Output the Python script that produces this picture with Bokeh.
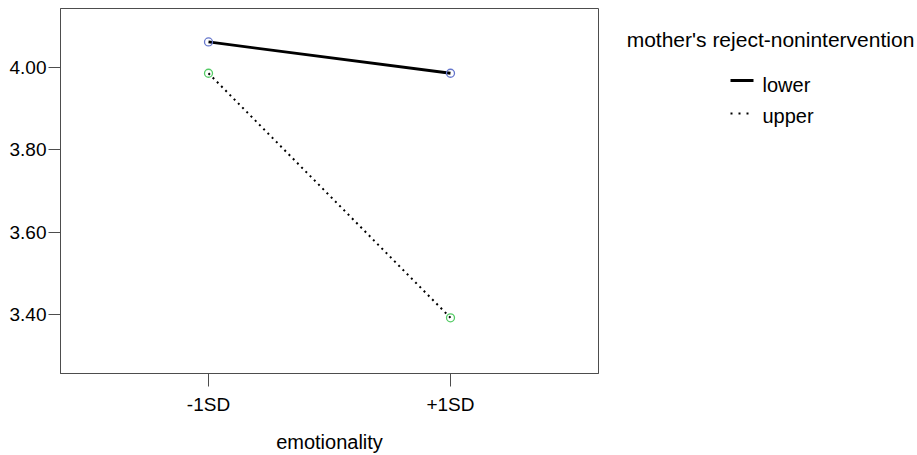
from bokeh.plotting import figure
from bokeh.layouts import row
from bokeh.models import Range1d, FixedTicker
from bokeh.core.properties import value
from bokeh.embed import file_html
from bokeh.resources import INLINE

# ---- data ----
categories = ["-1SD", "+1SD"]
lower_vals = [4.062, 3.986]
upper_vals = [3.986, 3.392]
y_ticks = [3.40, 3.60, 3.80, 4.00]
y_tick_labels = ["3.40", "3.60", "3.80", "4.00"]
legend_title = "mother's reject-nonintervention"
series_names = ["lower", "upper"]
x_title = "emotionality"

FONT = "Liberation Sans"
AX = "#4d4d4d"

X0, X1 = -0.6116, 1.6116
Y0, Y1 = 3.2567, 4.1433
FW, FH = 538, 365
L, T = 60, 8
W1, H = 600, 455
W2 = 317
B = H - T - FH

p = figure(width=W1, height=H, x_range=Range1d(X0, X1), y_range=Range1d(Y0, Y1),
           output_backend="svg", toolbar_location=None,
           min_border_left=L, min_border_right=W1 - L - FW, min_border_top=T,
           min_border_bottom=B)
p.xgrid.visible = False
p.ygrid.visible = False
p.outline_line_color = AX
p.outline_line_width = 1
p.background_fill_color = "white"
p.border_fill_color = "white"

xs = list(range(len(categories)))

for ax in (p.xaxis[0], p.yaxis[0]):
    ax.axis_line_color = AX
    ax.major_tick_line_color = AX
    ax.minor_tick_line_color = None
    ax.major_tick_in = 0
    ax.major_label_text_font = FONT
    ax.major_label_text_font_size = "19px"
    ax.major_label_text_color = "black"

p.xaxis[0].ticker = FixedTicker(ticks=xs)
p.xaxis[0].major_label_overrides = {i: c for i, c in enumerate(categories)}
p.xaxis[0].major_tick_out = 13
p.xaxis[0].major_label_standoff = 7
p.xaxis[0].axis_label = x_title
p.xaxis[0].axis_label_text_font = FONT
p.xaxis[0].axis_label_text_font_size = "20px"
p.xaxis[0].axis_label_text_font_style = "normal"
p.xaxis[0].axis_label_text_color = "black"
p.xaxis[0].axis_label_standoff = 13

p.yaxis[0].ticker = FixedTicker(ticks=y_ticks)
p.yaxis[0].major_label_overrides = {t: s for t, s in zip(y_ticks, y_tick_labels)}
p.yaxis[0].major_tick_out = 12
p.yaxis[0].major_label_standoff = 2

p.line(xs, lower_vals, line_color="black", line_width=2.8)
p.line(xs, upper_vals, line_color="black", line_width=2, line_dash="2 4")
p.scatter(xs, lower_vals, size=8, marker="circle", fill_color=None,
          line_color="#6677cc", line_width=1.3)
p.scatter(xs, upper_vals, size=8, marker="circle", fill_color=None,
          line_color="#55cc66", line_width=1.3)

# ---- legend panel (frame aligned with main frame; y range in page pixels) ----
q = figure(width=W2, height=H, x_range=Range1d(0, W2), y_range=Range1d(T + FH, T),
           output_backend="svg", toolbar_location=None,
           x_axis_location=None, y_axis_location=None,
           min_border_left=0, min_border_right=0, min_border_top=T, min_border_bottom=B)
q.xgrid.visible = False
q.ygrid.visible = False
q.outline_line_color = None
q.border_fill_color = "white"

q.text(x=[170], y=[39], text=[legend_title], text_align="center",
       text_baseline="middle", text_font=value(FONT), text_font_size="21px",
       text_color="black")
q.line([130, 153], [80, 80], line_color="black", line_width=2.8)
q.line([130, 153], [113, 113], line_color="black", line_width=2, line_dash="2 6")
q.text(x=[162, 162], y=[84, 115], text=series_names, text_align="left",
       text_baseline="middle", text_font=value(FONT), text_font_size="20px",
       text_color="black")

layout = row(p, q)
open("out.html", "w").write(file_html(layout, INLINE))
